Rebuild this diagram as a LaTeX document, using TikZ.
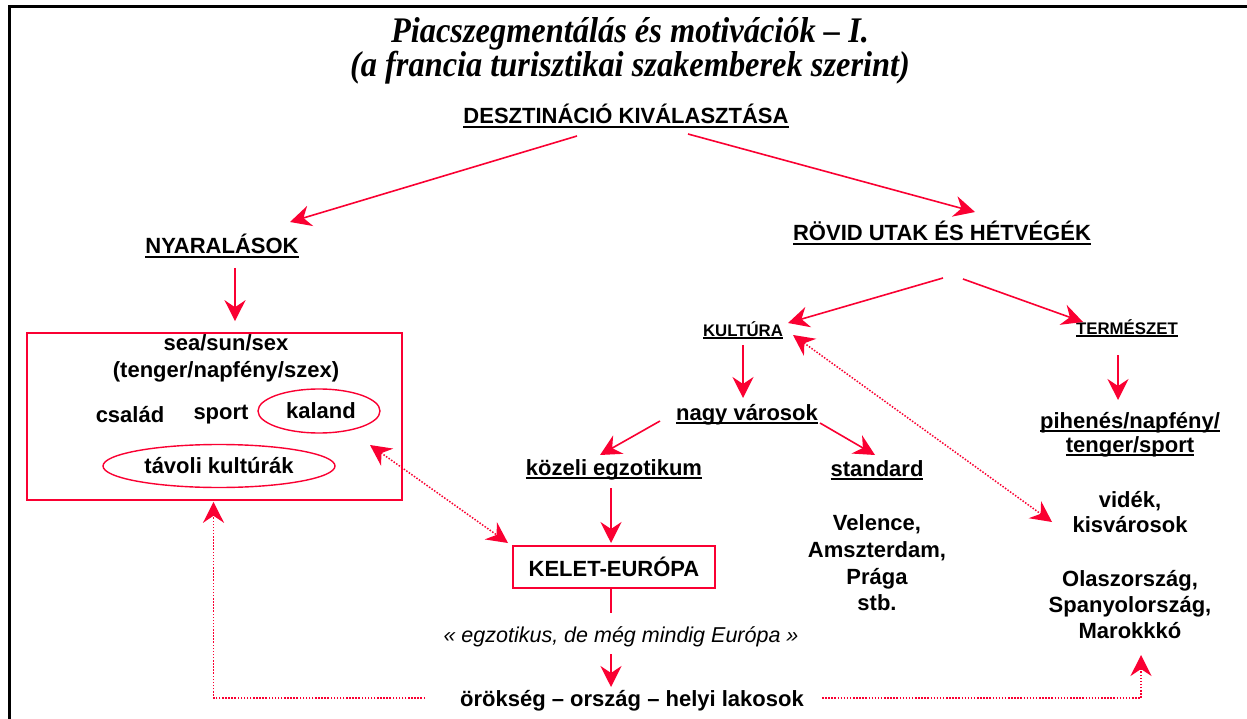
\documentclass[tikz,border=0pt]{standalone}
\usepackage{fontspec}
\setmainfont{Liberation Sans}
\newfontfamily\titlefont[FakeStretch=0.9]{Liberation Serif}
\usetikzlibrary{arrows.meta,calc,shapes.geometric}
\definecolor{cred}{RGB}{250,0,50}
\newcommand\myul[1]{\setbox0=\hbox{#1}\leavevmode\rlap{\rule[-0.16em]{\wd0}{0.085em}}\box0}
\tikzset{
  lbl/.style={font=\bfseries\fontsize{22}{26}\selectfont, inner sep=0pt, align=center},
  smalllbl/.style={font=\bfseries\fontsize{16.8}{18}\selectfont, inner sep=0pt},
  ttl/.style={font=\titlefont\bfseries\itshape\fontsize{36}{38}\selectfont, inner sep=0pt},
  arr/.style={draw=cred, line width=1.6pt, -{Stealth[length=21pt,width=21pt,inset=7pt,fill=cred]}},
  dotline/.style={draw=cred, line width=1.5pt, dash pattern=on 1.5pt off 1.6pt},
  dotarr/.style={dotline, -{Stealth[length=21pt,width=21pt,inset=7pt,fill=cred]}},
  dotdarr/.style={dotline, {Stealth[length=21pt,width=21pt,inset=7pt,fill=cred]}-{Stealth[length=21pt,width=21pt,inset=7pt,fill=cred]}},
  redbox/.style={draw=cred, line width=1.6pt, inner sep=0pt},
  redell/.style={ellipse, draw=cred, line width=1.4pt, inner sep=0pt, font=\bfseries\fontsize{22}{24}\selectfont}
}
\begin{document}
\begin{tikzpicture}[x=1pt,y=-1pt]
\useasboundingbox (0,0) rectangle (1247,719);
\fill[white] (0,0) rectangle (1247,719);
% frame
\draw[line width=3pt] (9.7,719) -- (9.7,6.7) -- (1247,6.7);
% title
\node[ttl] (title1) at (630,34) {Piacszegmentálás és motivációk – I.};
\node[ttl] (title2) at (630,68) {(a francia turisztikai szakemberek szerint)};
% main nodes
\node[lbl] (dest) at (626,116) {\myul{DESZTINÁCIÓ KIVÁLASZTÁSA}};
\node[lbl] (nyar) at (222,246) {\myul{NYARALÁSOK}};
\node[lbl] (rovid) at (942,233) {\myul{RÖVID UTAK ÉS HÉTVÉGÉK}};
% left box
\node[redbox, minimum width=375pt, minimum height=167pt] (vbox) at (214.5,416.5) {};
\node[lbl] (sea1) at (226,343) {sea/sun/sex};
\node[lbl] (sea2) at (226,372) {(tenger/napfény/szex)};
\node[lbl] (csalad) at (130,415) {család};
\node[lbl] (sport) at (221,415) {sport};
\node[redell, minimum width=122pt, minimum height=44pt] (kaland) at (319,411) {\raisebox{-2pt}{\hspace*{4pt}kaland}};
\node[redell, minimum width=232pt, minimum height=43pt] (tavoli) at (219,466) {\raisebox{-2pt}{távoli kultúrák}};
% right part
\node[smalllbl] (kult) at (743,330) {\myul{KULTÚRA}};
\node[smalllbl] (term) at (1127,328) {\myul{TERMÉSZET}};
\node[lbl] (nagy) at (747,415) {\myul{nagy városok}};
\node[lbl] (kozeli) at (614,470) {\myul{közeli egzotikum}};
\node[lbl] (std) at (877,470) {\myul{standard}};
\node[redbox, lbl, minimum width=202pt, minimum height=42pt] (kelet) at (614,567) {KELET-EURÓPA};
\node[font=\itshape\fontsize{21.5}{24}\selectfont, inner sep=0pt] (quote) at (621,637) {« egzotikus, de még mindig Európa »};
\node[lbl] (orok) at (632,701) {örökség – ország – helyi lakosok};
\node[lbl, font=\bfseries\fontsize{22}{26.7}\selectfont] (velence) at (877,563) {Velence,\\Amszterdam,\\Prága\\stb.};
\node[lbl, font=\bfseries\fontsize{22}{24}\selectfont] (pihen) at (1130,435) {\myul{pihenés/napfény/}\\\myul{tenger/sport}};
\node[lbl, font=\bfseries\fontsize{22}{25}\selectfont] (videk) at (1130,512) {vidék,\\kisvárosok};
\node[lbl] (olasz) at (1130,605) {Olaszország,\\Spanyolország,\\Marokkkó};
% connectors
\draw[arr] ($(dest)+(-49,20)$) -- ($(nyar)+(68,-24)$);
\draw[arr] ($(dest)+(62,18)$) -- ($(rovid)+(33,-21)$);
\draw[arr] ($(nyar)+(13,22)$) -- ($(vbox.north)+(20.5,-11)$);
\draw[arr] ($(rovid)+(1,45)$) -- ($(kult)+(45,-7)$);
\draw[arr] ($(rovid)+(21,46)$) -- ($(term)+(-44,-6)$);
\draw[arr] ($(kult)+(0,15)$) -- ($(nagy)+(-4,-17)$);
\draw[arr] ($(nagy)+(-87,6)$) -- ($(kozeli)+(-14,-15)$);
\draw[arr] ($(nagy)+(73,8)$) -- ($(std)+(-2,-15)$);
\draw[arr] ($(kozeli)+(-3,18)$) -- ($(kelet)+(-3,-24)$);
\coordinate (keletend) at (611,613);
\draw[draw=cred, line width=1.6pt] ($(kelet.south)+(-3,0)$) -- (keletend);
\draw[arr] ($(quote)+(-10,17)$) -- ($(orok)+(-21,-14)$);
\draw[arr] ($(term)+(-9,27)$) -- ($(pihen)+(-12,-35)$);
\draw[dotdarr] ($(vbox)+(155.5,28.5)$) -- ($(kelet)+(-106,-24)$);
\draw[dotdarr] ($(kult)+(50,5)$) -- ($(videk)+(-78,10)$);
\draw[dotarr] ($(orok)+(-207,-3)$) -| ($(vbox.south)+(-1,1)$);
\draw[dotarr] ($(orok)+(190,-3)$) -| ($(olasz)+(11,50)$);
\end{tikzpicture}
\end{document}
